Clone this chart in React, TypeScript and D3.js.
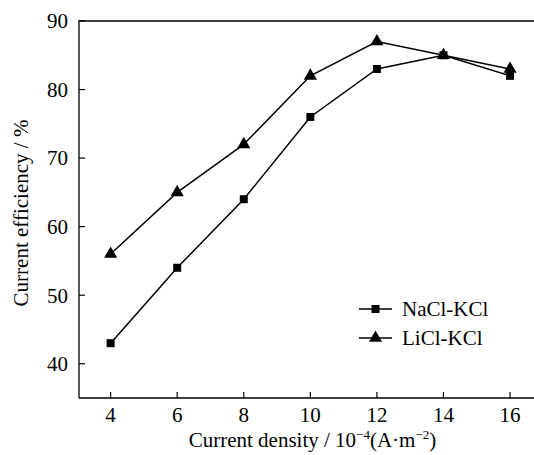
import React from "react";
import * as d3 from "d3";

const xValues = [4, 6, 8, 10, 12, 14, 16];
const naclValues = [43, 54, 64, 76, 83, 85, 82];
const liclValues = [56, 65, 72, 82, 87, 85, 83];
const xTicks = [4, 6, 8, 10, 12, 14, 16];
const yTicks = [40, 50, 60, 70, 80, 90];
const seriesNames = ["NaCl-KCl", "LiCl-KCl"];

const W = 534;
const H = 455;
const left = 79;
const top = 21;
const bottom = 398;
const right = 545;
const FS = 21;

export default function App() {
  const x = d3.scaleLinear().domain([3.05, 16 + 1.05]).range([left, right]);
  const y = d3.scaleLinear().domain([35, 90]).range([bottom, top]);
  const line = d3
    .line<[number, number]>()
    .x((d) => x(d[0]))
    .y((d) => y(d[1]));
  const nacl: [number, number][] = xValues.map((v, i) => [v, naclValues[i]]);
  const licl: [number, number][] = xValues.map((v, i) => [v, liclValues[i]]);
  const tri = d3.symbol().type(d3.symbolTriangle).size(75)();
  const font = "'Liberation Serif', 'Times New Roman', serif";

  return (
    <svg
      width={W}
      height={H}
      style={{ position: "absolute", left: 0, top: 0, background: "#fff" }}
      fontFamily={font}
    >
      <rect x={0} y={0} width={W} height={H} fill="#fff" />
      {/* frame */}
      <path
        d={`M${left},${bottom}V${top}H${right}M${left},${bottom}H${right}`}
        fill="none"
        stroke="#000"
        strokeWidth={1.3}
      />
      {/* y ticks */}
      {yTicks.map((t) => (
        <g key={"y" + t}>
          <line x1={left} x2={left + 6} y1={y(t)} y2={y(t)} stroke="#000" strokeWidth={1.2} />
          <text x={68} y={y(t)} dy="0.35em" textAnchor="end" fontSize={FS}>
            {t}
          </text>
        </g>
      ))}
      {/* x ticks */}
      {xTicks.map((t) => (
        <g key={"x" + t}>
          <line x1={x(t)} x2={x(t)} y1={bottom} y2={bottom - 6} stroke="#000" strokeWidth={1.2} />
          <text x={x(t)} y={422} textAnchor="middle" fontSize={FS}>
            {t}
          </text>
        </g>
      ))}
      {/* axis titles */}
      <text x={312.5} y={447} textAnchor="middle" fontSize={FS}>
        Current density / 10
        <tspan dy={-8} fontSize={13}>−4</tspan>
        <tspan dy={8}>(A·m</tspan>
        <tspan dy={-8} fontSize={13}>−2</tspan>
        <tspan dy={8}>)</tspan>
      </text>
      <text
        transform={`translate(28,213) rotate(-90)`}
        textAnchor="middle"
        fontSize={FS}
      >
        Current efficiency / %
      </text>
      {/* lines */}
      <path d={line(nacl) || ""} fill="none" stroke="#000" strokeWidth={1.5} />
      <path d={line(licl) || ""} fill="none" stroke="#000" strokeWidth={1.5} />
      {nacl.map((d, i) => (
        <rect key={"n" + i} x={x(d[0]) - 4} y={y(d[1]) - 4} width={8} height={8} fill="#000" />
      ))}
      {licl.map((d, i) => (
        <path key={"l" + i} d={tri || ""} transform={`translate(${x(d[0])},${y(d[1])})`} fill="#000" />
      ))}
      {/* legend */}
      <g>
        <line x1={359} x2={392} y1={309} y2={309} stroke="#000" strokeWidth={1.5} />
        <rect x={371.5} y={305} width={8} height={8} fill="#000" />
        <text x={402} y={309} dy="0.35em" fontSize={FS}>
          {seriesNames[0]}
        </text>
        <line x1={359} x2={392} y1={338} y2={338} stroke="#000" strokeWidth={1.5} />
        <path d={tri || ""} transform={`translate(375.5,338)`} fill="#000" />
        <text x={402} y={338} dy="0.35em" fontSize={FS}>
          {seriesNames[1]}
        </text>
      </g>
    </svg>
  );
}
